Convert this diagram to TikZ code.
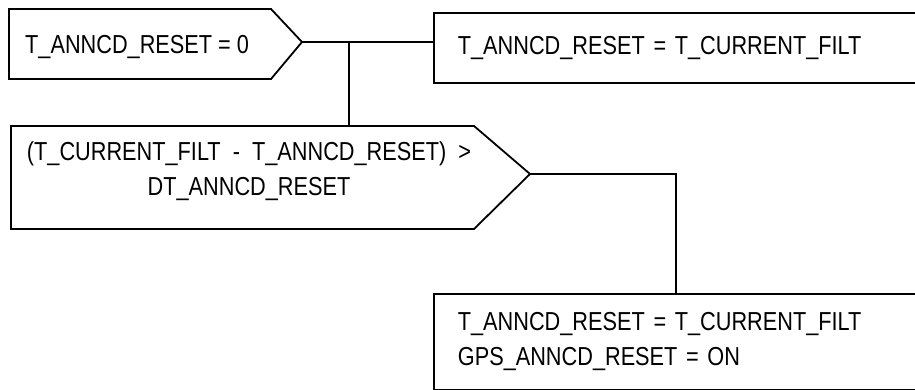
\documentclass[tikz,border=0pt]{standalone}
\usepackage{fontspec}
\setmainfont{Liberation Sans}[FakeStretch=0.835]
\usetikzlibrary{calc}

\begin{document}
\begin{tikzpicture}[x=1pt,y=-1pt,
  lbl/.style={font=\fontsize{26}{35}\selectfont,inner sep=0pt},
  actbox/.style={draw,line width=1.8pt,anchor=north west,minimum width=520pt,
    inner xsep=24pt,inner ysep=0pt,text width=472pt,align=left,font=\fontsize{26}{35}\selectfont},
  wire/.style={line width=1.8pt}]
\useasboundingbox (0,0) rectangle (915,390);
\clip (0,0) rectangle (915,390);
\draw[wire] (9,9) -- (271,9) -- (302,42) coordinate (t1) -- (271,79) -- (9,79) -- cycle;
\draw[wire] (11,126) coordinate (b2) -- (474,126) -- (530,174) coordinate (t2) -- (474,229) -- (11,229) -- cycle;
\node[lbl,anchor=base west] (c1) at (25,54) {T\_ANNCD\_RESET = 0};
\node[lbl,align=center] (c2) at (249,171.5) {(T\_CURRENT\_FILT~~-~~T\_ANNCD\_RESET)~~>\\DT\_ANNCD\_RESET};
\node[actbox,minimum height=70pt] (a1) at (433,12) {T\_ANNCD\_RESET = T\_CURRENT\_FILT};
\node[actbox,minimum height=96pt] (a2) at (433,293) {T\_ANNCD\_RESET = T\_CURRENT\_FILT\\GPS\_ANNCD\_RESET = ON};
\coordinate (j1) at (349,42);
\coordinate (j2) at (676,174);
\draw[wire] (t1) -- (t1 -| a1.west);
\draw[wire] (j1) -- (j1 |- b2);
\draw[wire] (t2) -- (j2) -- (j2 |- a2.north);
\end{tikzpicture}
\end{document}
